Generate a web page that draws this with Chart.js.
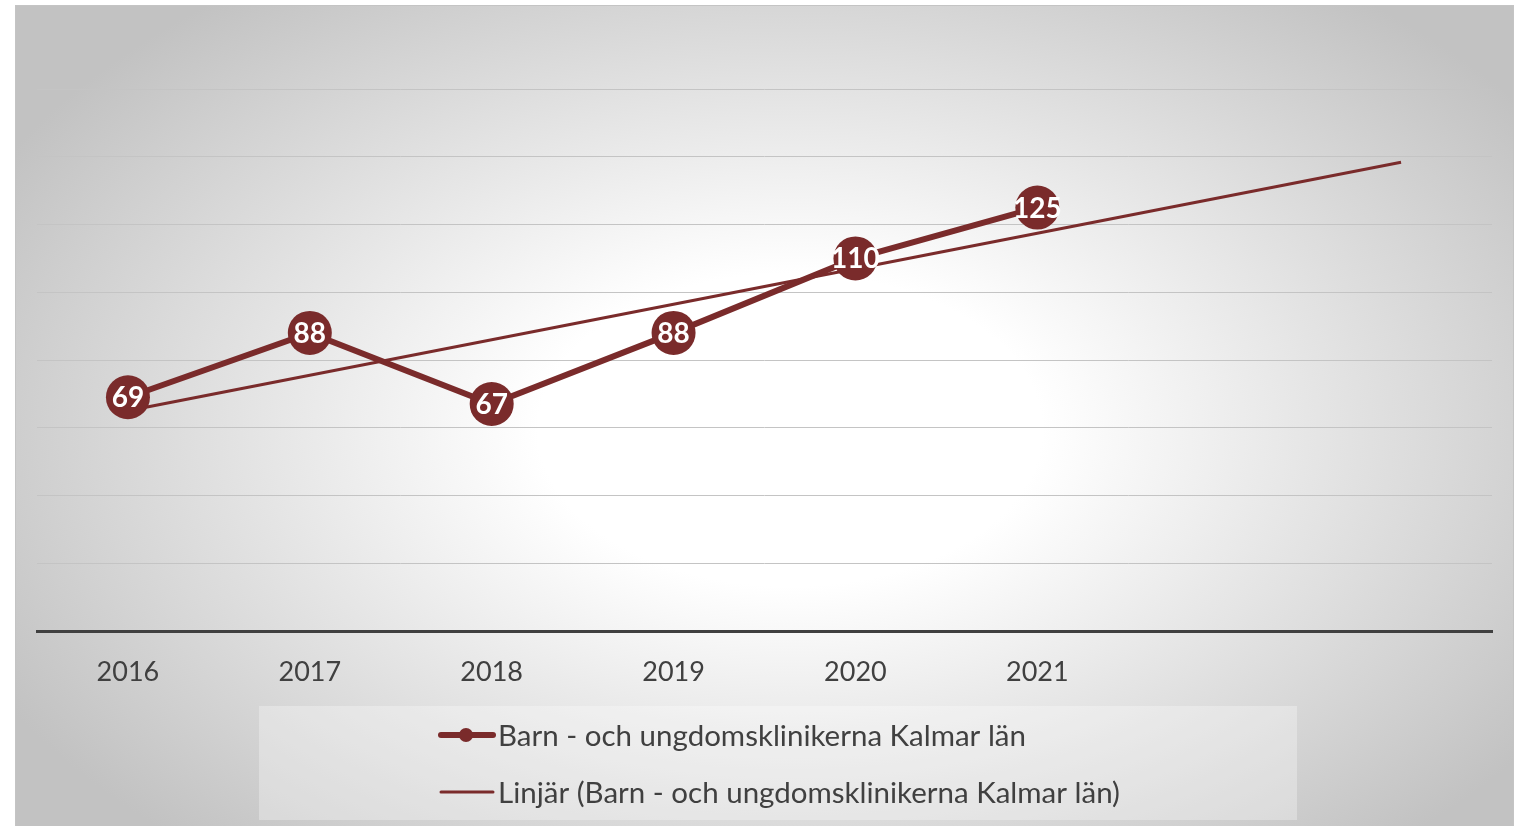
<!DOCTYPE html>
<html>
<head>
<meta charset="utf-8">
<script src="https://cdn.jsdelivr.net/npm/chart.js@4/dist/chart.umd.min.js"></script>
<style>
  html, body { margin: 0; padding: 0; background: #fff; }
  #wrap { width: 1524px; height: 826px; }
</style>
</head>
<body>
<div id="wrap"><canvas id="chartKlinik"></canvas></div>
<script>
const years = ['2016', '2017', '2018', '2019', '2020', '2021', '', ''];
const klinikValues = [69, 88, 67, 88, 110, 125];
// trendline: start at 2016, end at forecast end (2023)
const trendValues = [65, null, null, null, null, null, null, 138.4];
const seriesName = 'Barn - och ungdomsklinikerna Kalmar län';
const trendName = 'Linjär (Barn - och ungdomsklinikerna Kalmar län)';

const maroon = '#7a2b2b';
const textGrey = '#404040';
const fontFam = 'Lato, "Open Sans", sans-serif';

// grey radial background panel
const panelBg = {
  id: 'panelBg',
  beforeDraw(chart) {
    const ctx = chart.ctx;
    ctx.save();
    ctx.fillStyle = '#fff';
    ctx.fillRect(0, 0, chart.width, chart.height);
    ctx.translate(790, 430);
    ctx.scale(1, 0.62);
    const g = ctx.createRadialGradient(0, 0, 0, 0, 0, 900);
    g.addColorStop(0, '#ffffff');
    g.addColorStop(0.28, '#ffffff');
    g.addColorStop(1, '#c2c2c2');
    ctx.fillStyle = g;
    ctx.fillRect(15 - 790, (5 - 430) / 0.62, 1499, 821 / 0.62);
    ctx.restore();
    ctx.save();
    ctx.strokeStyle = '#c4c4c4';
    ctx.lineWidth = 1;
    ctx.strokeRect(15.5, 5.5, 1498, 821);
    ctx.restore();
  }
};

// white value labels inside the markers
const valueLabels = {
  id: 'valueLabels',
  afterDatasetsDraw(chart) {
    const ctx = chart.ctx;
    const meta = chart.getDatasetMeta(0);
    ctx.save();
    ctx.fillStyle = '#fff';
    ctx.font = 'bold 28px ' + fontFam;
    ctx.textAlign = 'center';
    ctx.textBaseline = 'middle';
    meta.data.forEach((pt, i) => {
      ctx.fillText(String(chart.data.datasets[0].data[i]), pt.x, pt.y + 1);
    });
    ctx.restore();
  }
};

// legend box under the axis
const legendBox = {
  id: 'legendBox',
  afterDraw(chart) {
    const ctx = chart.ctx;
    ctx.save();
    ctx.fillStyle = 'rgba(255,255,255,0.3)';
    ctx.fillRect(259, 706, 1038, 114);
    const rows = [735, 792];
    chart.data.datasets.forEach((ds, i) => {
      const y = rows[i];
      ctx.strokeStyle = ds.borderColor;
      ctx.lineWidth = i === 0 ? 6 : 3;
      ctx.lineCap = 'round';
      ctx.beginPath();
      ctx.moveTo(441, y);
      ctx.lineTo(493, y);
      ctx.stroke();
      if (i === 0) {
        ctx.fillStyle = ds.borderColor;
        ctx.beginPath();
        ctx.arc(466, y, 7, 0, Math.PI * 2);
        ctx.fill();
      }
      ctx.fillStyle = textGrey;
      ctx.font = '29.5px ' + fontFam;
      ctx.textAlign = 'left';
      ctx.textBaseline = 'middle';
      ctx.fillText(ds.label, 498, y + 1);
    });
    ctx.restore();
  }
};

new Chart(document.getElementById('chartKlinik'), {
  type: 'line',
  data: {
    labels: years,
    datasets: [{
      label: seriesName,
      data: klinikValues,
      borderColor: maroon,
      backgroundColor: maroon,
      borderWidth: 6,
      pointRadius: 22,
      pointHoverRadius: 22,
      pointBackgroundColor: maroon,
      pointBorderWidth: 0,
      tension: 0
    }, {
      label: trendName,
      data: trendValues,
      borderColor: maroon,
      backgroundColor: maroon,
      borderWidth: 3,
      pointRadius: 0,
      spanGaps: true,
      tension: 0
    }]
  },
  options: {
    responsive: true,
    maintainAspectRatio: false,
    animation: false,
    layout: { padding: { left: 37, right: 32, top: 89, bottom: 0 } },
    scales: {
      x: {
        offset: true,
        grid: { display: false, drawTicks: false },
        border: { display: true, color: textGrey, width: 3 },
        ticks: { color: textGrey, font: { family: fontFam, size: 27 }, padding: 25, maxRotation: 0, autoSkip: false },
        afterFit(scale) { scale.height = 195; }
      },
      y: {
        min: 0,
        max: 160,
        ticks: { display: false, stepSize: 20 },
        grid: { color: '#c4c4c4', lineWidth: 1, drawTicks: false },
        border: { display: false },
        afterFit(scale) { scale.width = 0; }
      }
    },
    plugins: {
      legend: { display: false },
      tooltip: { enabled: false }
    }
  },
  plugins: [panelBg, valueLabels, legendBox]
});
</script>
</body>
</html>
